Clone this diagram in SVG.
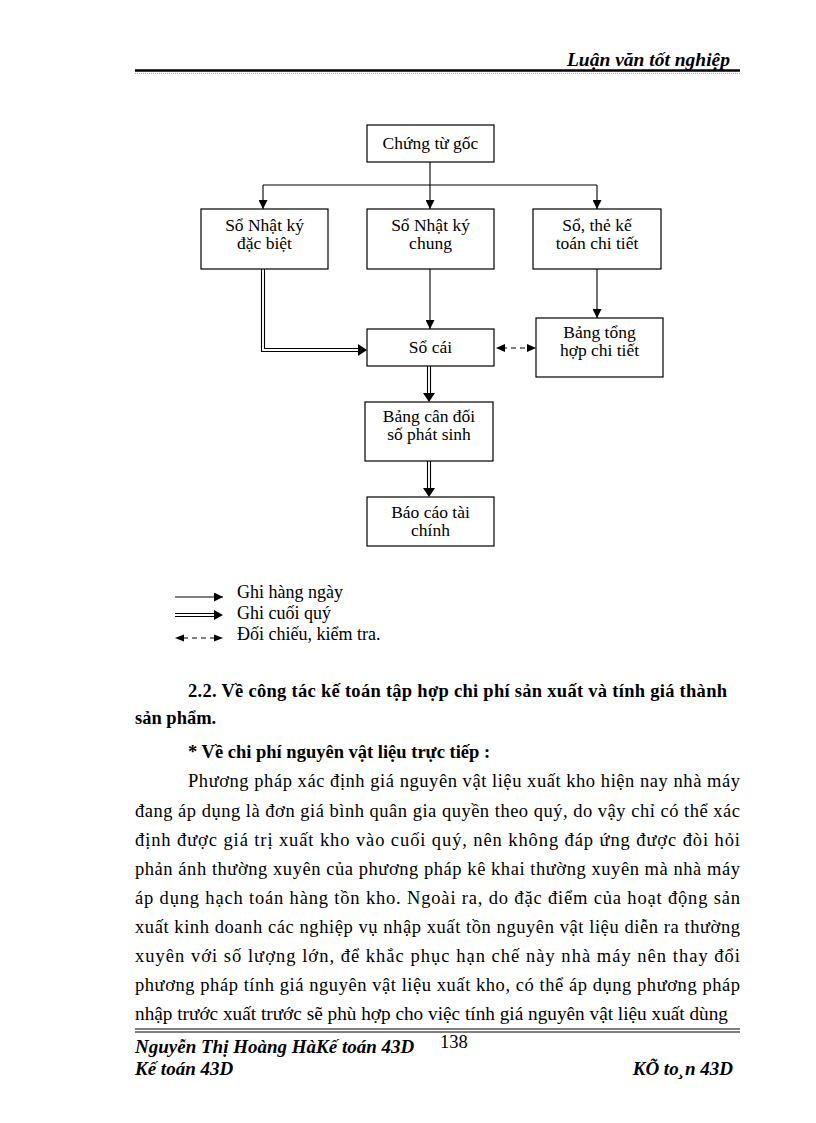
<svg xmlns="http://www.w3.org/2000/svg" width="816" height="1123" viewBox="0 0 816 1123">
<style>
  .box { fill: #fff; stroke: #000; stroke-width: 1.2; }
  .lbl { font-family: "Liberation Serif", "Times New Roman", serif; font-size: 17.5px; fill: #000; text-anchor: middle; }
  .leg { font-family: "Liberation Serif", "Times New Roman", serif; font-size: 18px; fill: #000; }
  .ln { stroke: #000; stroke-width: 1.1; fill: none; }
  .dash { stroke: #000; stroke-width: 1.1; fill: none; stroke-dasharray: 5 4; }
  .body { font-family: "Liberation Serif", "Times New Roman", serif; font-size: 18.5px; fill: #000; }
  .bold { font-weight: bold; }
  .bi { font-family: "Liberation Serif", "Times New Roman", serif; font-weight: bold; font-style: italic; fill: #000; }
</style>
<defs>
  <marker id="ah" viewBox="0 0 10 10" refX="10" refY="5" markerWidth="9" markerHeight="9" markerUnits="userSpaceOnUse" orient="auto">
    <path d="M0,0 L10,5 L0,10 z" fill="#000"/>
  </marker>
</defs>

<rect width="816" height="1123" fill="#fff"/>

<!-- header -->
<g id="header">
  <text class="bi" x="730" y="66" font-size="19.5" text-anchor="end">Luận văn tốt nghiệp</text>
  <line x1="135" y1="70.5" x2="740" y2="70.5" stroke="#000" stroke-width="2.5"/>
  <line x1="135" y1="73.5" x2="740" y2="73.5" stroke="#999" stroke-width="0.8" stroke-dasharray="1 1"/>
</g>

<!-- connectors -->
<g id="connectors">
  <line class="ln" x1="430" y1="162" x2="430" y2="185"/>
  <line class="ln" x1="263" y1="185" x2="597" y2="185"/>
  <line class="ln" x1="263" y1="185" x2="263" y2="209" marker-end="url(#ah)"/>
  <line class="ln" x1="430" y1="185" x2="430" y2="209" marker-end="url(#ah)"/>
  <line class="ln" x1="597" y1="185" x2="597" y2="209" marker-end="url(#ah)"/>
  <line class="ln" x1="430" y1="269" x2="430" y2="329" marker-end="url(#ah)"/>
  <line class="ln" x1="597" y1="269" x2="597" y2="318" marker-end="url(#ah)"/>
  <!-- double from Sổ Nhật ký đặc biệt to Sổ cái -->
  <path class="ln" d="M261.5,269 V351.5 H360"/>
  <path class="ln" d="M264.5,269 V348.5 H360"/>
  <path d="M358,344 L367,350 L358,356 z" fill="#000"/>
  <!-- dashed bidirectional -->
  <line class="dash" x1="502" y1="348" x2="527" y2="348"/>
  <path d="M505,344 L496,348 L505,352 z" fill="#000"/>
  <path d="M527,344 L536,348 L527,352 z" fill="#000"/>
  <!-- double Sổ cái -> Bảng cân đối -->
  <line class="ln" x1="427.5" y1="366" x2="427.5" y2="395"/>
  <line class="ln" x1="430.5" y1="366" x2="430.5" y2="395"/>
  <path d="M423,393 L429,402 L435,393 z" fill="#000"/>
  <!-- double Bảng cân đối -> Báo cáo -->
  <line class="ln" x1="427.5" y1="461" x2="427.5" y2="490"/>
  <line class="ln" x1="430.5" y1="461" x2="430.5" y2="490"/>
  <path d="M423,488 L429,497 L435,488 z" fill="#000"/>
</g>

<!-- nodes -->
<g id="n-chungtugoc">
  <rect class="box" x="367" y="125" width="127" height="37"/>
  <text class="lbl" x="430.5" y="149">Chứng từ gốc</text>
</g>
<g id="n-nkdb">
  <rect class="box" x="201" y="209" width="127" height="60"/>
  <text class="lbl" x="264.5" y="231">Sổ Nhật ký</text>
  <text class="lbl" x="264.5" y="249">đặc biệt</text>
</g>
<g id="n-nkc">
  <rect class="box" x="367" y="209" width="127" height="60"/>
  <text class="lbl" x="430.5" y="231">Sổ Nhật ký</text>
  <text class="lbl" x="430.5" y="249">chung</text>
</g>
<g id="n-sothe">
  <rect class="box" x="533" y="209" width="128" height="60"/>
  <text class="lbl" x="597" y="231">Sổ, thẻ kế</text>
  <text class="lbl" x="597" y="249">toán chi tiết</text>
</g>
<g id="n-socai">
  <rect class="box" x="367" y="329" width="127" height="37"/>
  <text class="lbl" x="430.5" y="353">Sổ cái</text>
</g>
<g id="n-bangtonghop">
  <rect class="box" x="536" y="318" width="127" height="59"/>
  <text class="lbl" x="599.5" y="338">Bảng tổng</text>
  <text class="lbl" x="599.5" y="356">hợp chi tiết</text>
</g>
<g id="n-bangcandoi">
  <rect class="box" x="365" y="402" width="128" height="59"/>
  <text class="lbl" x="429" y="422">Bảng cân đối</text>
  <text class="lbl" x="429" y="440">số phát sinh</text>
</g>
<g id="n-baocao">
  <rect class="box" x="367" y="497" width="127" height="49"/>
  <text class="lbl" x="430.5" y="518">Báo cáo tài</text>
  <text class="lbl" x="430.5" y="536">chính</text>
</g>

<!-- legend -->
<g id="legend">
  <line class="ln" x1="175" y1="597" x2="223" y2="597" marker-end="url(#ah)"/>
  <text class="leg" x="237" y="598">Ghi hàng ngày</text>
  <line class="ln" x1="175" y1="613.5" x2="217" y2="613.5"/>
  <line class="ln" x1="175" y1="616.5" x2="217" y2="616.5"/>
  <path d="M214,610 L223,615 L214,620 z" fill="#000"/>
  <text class="leg" x="237" y="619">Ghi cuối quý</text>
  <line class="dash" x1="183" y1="638" x2="215" y2="638" stroke-dasharray="4 4"/>
  <path d="M184,634.5 L175,638 L184,641.5 z" fill="#000"/>
  <path d="M214,634.5 L223,638 L214,641.5 z" fill="#000"/>
  <text class="leg" x="237" y="640">Đối chiếu, kiểm tra.</text>
</g>

<!-- body text -->
<g id="body">
  <text class="body bold" x="188" y="697" textLength="539" lengthAdjust="spacing">2.2. Về công tác kế toán tập hợp chi phí sản xuất và tính giá thành</text>
  <text class="body bold" x="135" y="724">sản phẩm.</text>
  <text class="body bold" x="188" y="758">* Về chi phí nguyên vật liệu trực tiếp :</text>
  <text class="body" x="188" y="787" textLength="552" lengthAdjust="spacing">Phương pháp xác định giá nguyên vật liệu xuất kho hiện nay nhà máy</text>
  <text class="body" x="135" y="817" textLength="605" lengthAdjust="spacing">đang áp dụng là đơn giá bình quân gia quyền theo quý, do vậy chỉ có thể xác</text>
  <text class="body" x="135" y="846" textLength="605" lengthAdjust="spacing">định được giá trị xuất kho vào cuối quý, nên không đáp ứng được đòi hỏi</text>
  <text class="body" x="135" y="875" textLength="605" lengthAdjust="spacing">phản ánh thường xuyên của phương pháp kê khai thường xuyên mà nhà máy</text>
  <text class="body" x="135" y="904" textLength="605" lengthAdjust="spacing">áp dụng hạch toán hàng tồn kho. Ngoài ra, do đặc điểm của hoạt động sản</text>
  <text class="body" x="135" y="933" textLength="605" lengthAdjust="spacing">xuất kinh doanh các nghiệp vụ nhập xuất tồn nguyên vật liệu diễn ra thường</text>
  <text class="body" x="135" y="962" textLength="605" lengthAdjust="spacing">xuyên với số lượng lớn, để khắc phục hạn chế này nhà máy nên thay đổi</text>
  <text class="body" x="135" y="991" textLength="605" lengthAdjust="spacing">phương pháp tính giá nguyên vật liệu xuất kho, có thể áp dụng phương pháp</text>
  <text class="body" x="135" y="1020" textLength="593" lengthAdjust="spacingAndGlyphs">nhập trước xuất trước sẽ phù hợp cho việc tính giá nguyên vật liệu xuất dùng</text>
</g>

<!-- footer -->
<g id="footer">
  <line x1="135" y1="1029" x2="740" y2="1029" stroke="#000" stroke-width="1"/>
  <line x1="135" y1="1032" x2="740" y2="1032" stroke="#000" stroke-width="1"/>
  <text class="bi" x="135" y="1053" font-size="19">Nguyễn Thị Hoàng HàKế toán 43D</text>
  <text class="body" x="440" y="1048" font-size="17">138</text>
  <text class="bi" x="135" y="1075" font-size="19">Kế toán 43D</text>
  <text class="bi" x="733" y="1075" font-size="19" text-anchor="end">KÕ to¸n 43D</text>
</g>
</svg>
